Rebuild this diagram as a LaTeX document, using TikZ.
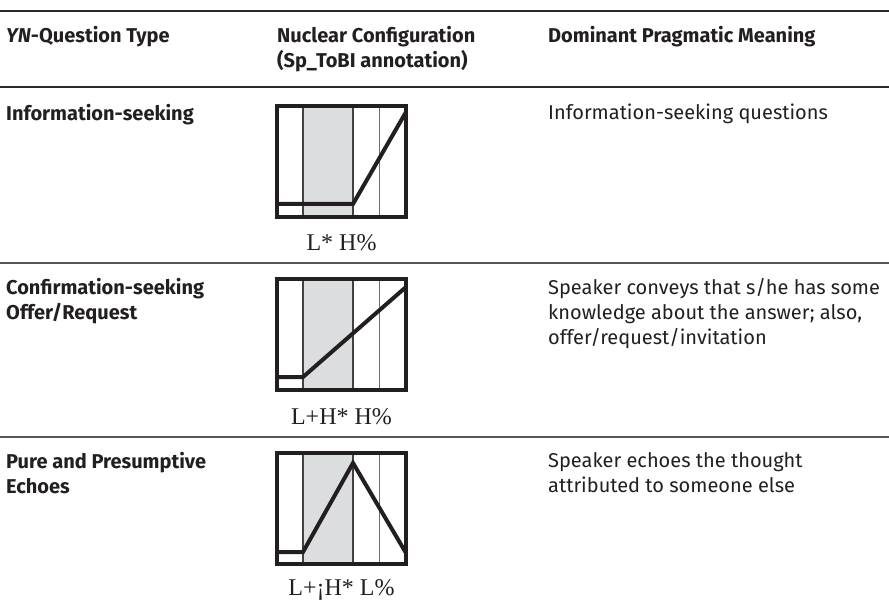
\documentclass[tikz,border=0pt]{standalone}
\usepackage{fontspec}
\setmainfont{Fira Sans}
\newfontfamily\tonefont{Liberation Serif}
\definecolor{ink}{HTML}{231F20}
\definecolor{greyfill}{HTML}{DCDDDF}
\definecolor{rulecol}{HTML}{2A2A2A}
\definecolor{seprule}{HTML}{555555}
\definecolor{thindiv}{HTML}{6E6E6E}
\begin{document}
\begin{tikzpicture}[x=1pt,y=-1pt,
  txt/.style={anchor=north west, inner sep=0, align=left, font=\fontsize{20}{25}\selectfont, text=ink},
  hdr/.style={anchor=north west, inner sep=0, align=left, font=\fontsize{20}{25}\selectfont\bfseries, text=ink},
  tone/.style={inner sep=0, font=\tonefont\fontsize{24}{27}\selectfont, text=ink},
  frame/.style={line width=3.4pt, draw=ink},
  contour/.style={line width=4pt, draw=ink, line join=miter},
  majorrule/.style={line width=2.8pt, draw=rulecol},
  minorrule/.style={line width=1.2pt, draw=seprule},
  darkdiv/.style={line width=1.4pt, draw=ink!85},
  lightdiv/.style={line width=0.8pt, draw=thindiv},
  ]
\useasboundingbox (0,0) rectangle (889,604);
% rules
\coordinate (r0l) at (0,11);   \coordinate (r0r) at (889,11);
\coordinate (r1l) at (0,87);   \coordinate (r1r) at (889,87);
\coordinate (r2l) at (0,263);  \coordinate (r2r) at (889,263);
\coordinate (r3l) at (0,437);  \coordinate (r3r) at (889,437);
\draw[majorrule] (r0l) -- (r0r);
\draw[majorrule] (r1l) -- (r1r);
\draw[minorrule] (r2l) -- (r2r);
\draw[minorrule] (r3l) -- (r3r);
% header
\node[hdr] (h1) at (6,26) {\textit{YN}-Question Type};
\node[hdr] (h2) at (277,26) {Nuclear Configuration\\(Sp\_ToBI annotation)};
\node[hdr] (h3) at (548,26) {Dominant Pragmatic Meaning};
% row texts
\node[hdr] (a1) at (6,104) {Information-seeking};
\node[txt] (a3) at (548,104) {Information-seeking questions};
\node[hdr] (b1) at (6,278) {Confirmation-seeking\\Offer/Request};
\node[txt] (b3) at (548,278) {Speaker conveys that s/he has some\\knowledge about the answer; also,\\offer/request/invitation};
\node[hdr] (c1) at (6,452) {Pure and Presumptive\\Echoes};
\node[txt] (c3) at (548,452) {Speaker echoes the thought\\attributed to someone else};
% boxes
\foreach \t in {106,279,453}{
  \fill[greyfill] (303,\t) rectangle (353,\t+111);
  \draw[darkdiv] (303,\t) -- (303,\t+111);
  \draw[darkdiv] (353,\t) -- (353,\t+111);
  \draw[lightdiv] (379,\t) -- (379,\t+111);
}
\draw[contour] (277,204) -- (353,204) -- (406,112);
\draw[contour] (277,377) -- (303,377) -- (406,287);
\draw[contour] (277,552) -- (303,552) -- (353,463) -- (406,553);
\draw[frame] (277,106) rectangle (406,217);
\draw[frame] (277,279) rectangle (406,390);
\draw[frame] (277,453) rectangle (406,564);
% tone labels
\node[tone] (ta) at (341.5,243) {L* H\%};
\node[tone] (tb) at (341.5,417) {L+H* H\%};
\node[tone] (tc) at (341.5,590) {L+¡H* L\%};
\end{tikzpicture}
\end{document}
